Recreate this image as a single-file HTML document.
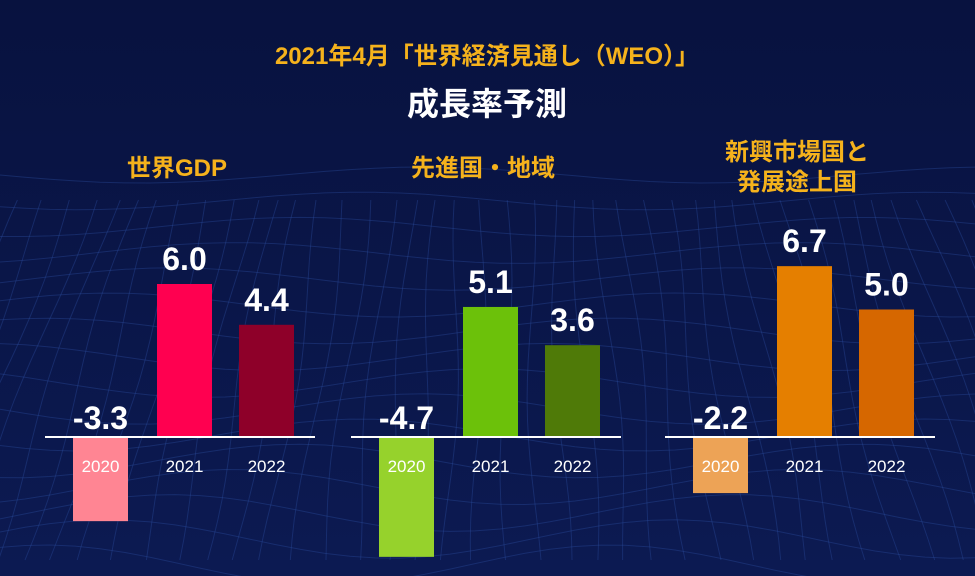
<!DOCTYPE html>
<html><head><meta charset="utf-8"><style>
body{margin:0;width:975px;height:576px;overflow:hidden;background:#0a1545;font-family:"Liberation Sans","Noto Sans CJK JP",sans-serif}
svg{display:block}
</style></head><body>
<svg id="c" width="975" height="576">
<defs><linearGradient id="bg" x1="0" y1="0" x2="0" y2="1"><stop offset="0" stop-color="#08123f"/><stop offset="1" stop-color="#0c1a52"/></linearGradient></defs>
<rect width="975" height="576" fill="url(#bg)"/>
<g id="mesh" stroke="#2a4a9a" stroke-opacity="0.4" stroke-width="1" fill="none"></g>
<text x="487" y="64" text-anchor="middle" fill="#f5b21c" font-size="24" font-weight="bold">2021年4月「世界経済見通し（WEO）」</text>
<text x="487" y="115" text-anchor="middle" fill="#ffffff" font-size="32" font-weight="bold">成長率予測</text>
<g id="plots"></g>
</svg>
<script>
const groups=["世界GDP","先進国・地域","新興市場国と発展途上国"];
const years=["2020","2021","2022"];
const values=[[-3.3,6.0,4.4],[-4.7,5.1,3.6],[-2.2,6.7,5.0]];
const colors=[["#ff8593","#ff0050","#8e0029"],["#96d22c","#6cc10a","#4f7a08"],["#eda356","#e57f00","#d66700"]];
const ns="http://www.w3.org/2000/svg";
const svg=document.getElementById('c'),plots=document.getElementById('plots'),mesh=document.getElementById('mesh');
function mk(t,a,p){const e=document.createElementNS(ns,t);for(const k in a)e.setAttribute(k,a[k]);(p||plots).appendChild(e);return e;}
for(let i=0;i<16;i++){let d="";for(let x=0;x<=975;x+=25){const y=175+i*26+Math.sin(x/90+i*0.7)*8*(1+i*0.1);d+=(x?"L":"M")+x+","+y.toFixed(1);}mk('path',{d:d},mesh);}
for(let j=0;j<44;j++){let d="";for(let y=200;y<=576;y+=20){const x=j*23+Math.sin(y/60+j)*6+(y-200)*(j-22)*0.02;d+=(y==200?"M":"L")+x.toFixed(1)+","+y;}mk('path',{d:d},mesh);}
const base=437,scale=25.5;
const lineX=[45,351,665],barOff=[28,112,194],barW=55;
const titleY=[[176],[176],[160,190]];
groups.forEach((g,gi)=>{
  const gx=lineX[gi],cx=gx+135;
  const lines=gi==2?["新興市場国と","発展途上国"]:[g];
  lines.forEach((l,li)=>{const t=mk('text',{x:cx-3,y:titleY[gi][li],'text-anchor':'middle',fill:'#f5b21c','font-size':24,'font-weight':'bold'});t.textContent=l;
    
    });
  values[gi].forEach((v,i)=>{
    const x=gx+barOff[i],h=Math.abs(v)*scale,y=v>=0?base-h:base;
    const r=mk('rect',{x:x,y:y,width:barW,height:h,fill:colors[gi][i]});
    
    
    const ly=v>=0?base-h-14:base-8;
    const t=mk('text',{x:x+barW/2,y:ly,'text-anchor':'middle',fill:'#fff','font-size':32,'font-weight':'bold'});t.textContent=v.toFixed(1);
    
    
    const yt=mk('text',{x:x+barW/2,y:472,'text-anchor':'middle',fill:'#fff','font-size':17});yt.textContent=years[i];
    
    
  });
  const ln=mk('line',{x1:gx,x2:gx+270,y1:base,y2:base,stroke:'#fff','stroke-width':2});
  
  
});
</script>
</body></html>
